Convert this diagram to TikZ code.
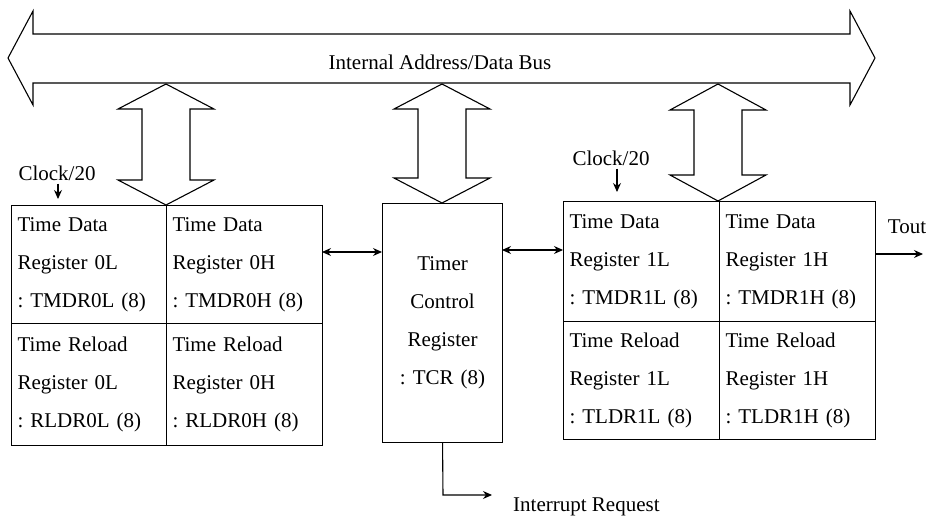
\documentclass[tikz,border=0pt]{standalone}
\usepackage{fontspec}
\setmainfont{Liberation Serif}
\usetikzlibrary{arrows.meta}
\frenchspacing
\newcommand{\vbarrow}[4]{% cx, top tip y, bottom tip y, head length
  \draw[blockarrow] (#1,#2) -- ({#1+48},{#2+#4}) -- ({#1+24},{#2+#4}) -- ({#1+24},{#3-#4})
    -- ({#1+48},{#3-#4}) -- (#1,#3) -- ({#1-48},{#3-#4}) -- ({#1-24},{#3-#4})
    -- ({#1-24},{#2+#4}) -- ({#1-48},{#2+#4}) -- cycle;}
\tikzset{
  every node/.style={font=\fontsize{21}{38}\selectfont},
  blockarrow/.style={draw, line width=1.1pt, line join=miter},
  cell/.style={draw, line width=1.1pt, anchor=north west, inner xsep=6pt, inner ysep=0pt, align=left},
  conn/.style={line width=1.1pt},
  tip/.style={-{Stealth[length=9pt,width=8pt]}},
  dtip/.style={{Stealth[length=9pt,width=8pt]}-{Stealth[length=9pt,width=8pt]}},
  lbl/.style={inner sep=0pt}
}
\begin{document}
\begin{tikzpicture}[x=1pt,y=-1pt]
\useasboundingbox (0,0) rectangle (946,525);
% bus
\draw[blockarrow] (8,58) -- (33,11) -- (33,34) -- (850,34) -- (850,11) -- (875,58)
  -- (850,105) -- (850,83) -- (33,83) -- (33,105) -- cycle;
\node[lbl] (bus) at (440,62) {Internal Address/Data Bus};
% left register block
\node[cell, text width=143pt, minimum height=118pt] (L1) at (11,205) {Time Data\\Register 0L\\: TMDR0L (8)};
\node[cell, text width=144pt, minimum height=118pt] (L2) at (166,205) {Time Data\\Register 0H\\: TMDR0H (8)};
\node[cell, text width=143pt, minimum height=122pt] (L3) at (11,323) {Time Reload\\Register 0L\\: RLDR0L (8)};
\node[cell, text width=144pt, minimum height=122pt] (L4) at (166,323) {Time Reload\\Register 0H\\: RLDR0H (8)};
% timer control register
\node[cell, text width=108pt, minimum height=239pt, align=center] (TCR) at (382,203) {Timer\\Control\\Register\\: TCR (8)};
% right register block
\node[cell, text width=144pt, minimum height=120pt] (R1) at (563,201) {Time Data\\Register 1L\\: TMDR1L (8)};
\node[cell, text width=144pt, minimum height=120pt] (R2) at (719,201) {Time Data\\Register 1H\\: TMDR1H (8)};
\node[cell, text width=144pt, minimum height=118pt] (R3) at (563,321) {Time Reload\\Register 1L\\: TLDR1L (8)};
\node[cell, text width=144pt, minimum height=118pt] (R4) at (719,321) {Time Reload\\Register 1H\\: TLDR1H (8)};
% bus arrows
\vbarrow{166}{84}{205}{25}
\vbarrow{442}{84}{203}{25}
\vbarrow{718}{84}{201}{26}
% clocks
\node[lbl] (clk0) at (57,173) {Clock/20};
\node[lbl] (clk1) at (611,158) {Clock/20};
\coordinate (c0) at (58,199);
\coordinate (c1) at (617,192);
\draw[conn,tip] (c0 |- clk0.south) ++(0,3) -- (c0);
\draw[conn,tip] (c1 |- clk1.south) ++(0,3) -- (c1);
% connections
\coordinate (a1) at (322,252);
\draw[conn,dtip] (a1) -- (a1 -| TCR.west);
\coordinate (a2) at (502,250);
\draw[conn,dtip] (a2) -- (a2 -| R1.west);
\coordinate (a3) at (875,254);
\coordinate (tout) at (923,254);
\draw[conn,tip] (a3) -- (tout);
\node[lbl] (toutlbl) at (907,227) {Tout};
\node[lbl, anchor=west] (irq) at (513,507) {Interrupt Request};
\coordinate (ibend) at (443,495);
\coordinate (iend) at (492,495);
\draw[conn,tip] (TCR.south) -- (ibend) -- (iend);
\end{tikzpicture}
\end{document}
